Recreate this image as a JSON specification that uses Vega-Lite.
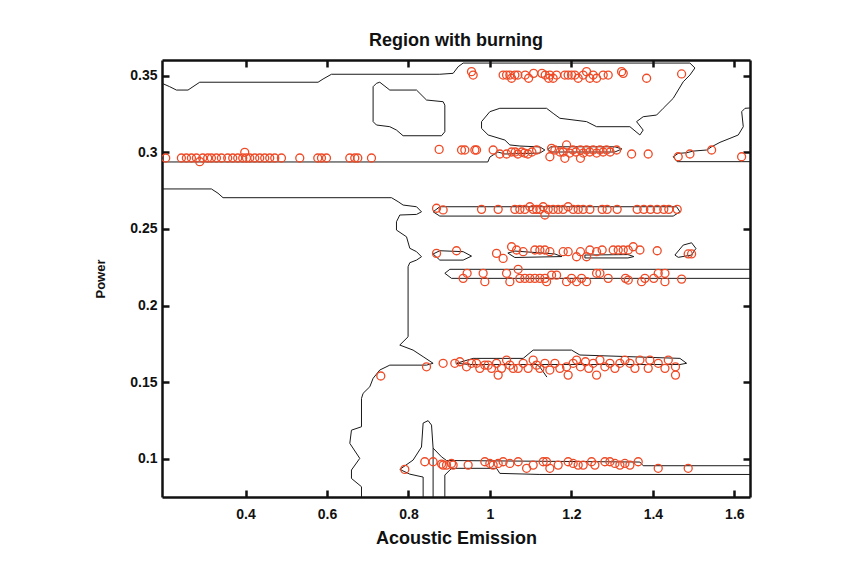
{
"$schema":"https://vega.github.io/schema/vega-lite/v6.json",
"width":588,"height":437,
"autosize":"none",
"padding":{"left":162,"top":60,"right":117,"bottom":78},
"background":"white",
"title":{"text":"Region with burning","font":"Liberation Sans","fontSize":18,"fontWeight":"bold","color":"#111","anchor":"middle","offset":9},
"config":{"view":{"stroke":null},"axis":{"labelFont":"Liberation Sans","labelFontSize":14,"labelFontWeight":"bold","labelColor":"#111","titleFont":"Liberation Sans","titleFontWeight":"bold","titleColor":"#111","domainColor":"#111","domainWidth":2.5,"tickColor":"#111","tickWidth":2.5,"tickSize":-7,"grid":false}},
"datasets":{
"contours":[
{"p":"A","o":1,"x":0.195,"y":0.3450},{"p":"A","o":2,"x":0.2139,"y":0.3428},{"p":"A","o":3,"x":0.2304,"y":0.3406},{"p":"A","o":4,"x":0.2589,"y":0.3406},{"p":"A","o":5,"x":0.2711,"y":0.3428},{"p":"A","o":6,"x":0.2876,"y":0.3457},{"p":"A","o":7,"x":0.5781,"y":0.3457},{"p":"A","o":8,"x":0.5904,"y":0.3478},{"p":"A","o":9,"x":0.6110,"y":0.3509},{"p":"A","o":10,"x":0.8770,"y":0.3509},{"p":"A","o":11,"x":0.9097,"y":0.3515},{"p":"A","o":12,"x":0.9219,"y":0.3558},{"p":"A","o":13,"x":0.9342,"y":0.3582},{"p":"A","o":14,"x":1.4909,"y":0.3582},{"p":"A","o":15,"x":1.5032,"y":0.3550},{"p":"A","o":16,"x":1.4909,"y":0.3504},{"p":"A","o":17,"x":1.4745,"y":0.3460},{"p":"A","o":18,"x":1.4499,"y":0.3352},{"p":"A","o":19,"x":1.4254,"y":0.3287},{"p":"A","o":20,"x":1.4091,"y":0.3243},{"p":"A","o":21,"x":1.3762,"y":0.3232},{"p":"A","o":22,"x":1.3600,"y":0.3200},{"p":"A","o":23,"x":1.3762,"y":0.3145},{"p":"A","o":24,"x":1.3681,"y":0.3113},{"p":"A","o":25,"x":1.3436,"y":0.3167},{"p":"A","o":26,"x":1.2618,"y":0.3167},{"p":"A","o":27,"x":1.2372,"y":0.3200},{"p":"A","o":28,"x":1.1717,"y":0.3222},{"p":"A","o":29,"x":1.1552,"y":0.3254},{"p":"A","o":30,"x":1.1390,"y":0.3287},{"p":"A","o":31,"x":1.0243,"y":0.3287},{"p":"A","o":32,"x":0.9998,"y":0.3265},{"p":"A","o":33,"x":0.9794,"y":0.3200},{"p":"A","o":34,"x":0.9794,"y":0.3156},{"p":"A","o":35,"x":0.9956,"y":0.3113},{"p":"A","o":36,"x":1.0366,"y":0.3080},{"p":"A","o":37,"x":1.0489,"y":0.3048},{"p":"A","o":38,"x":1.0735,"y":0.3041},{"p":"A","o":39,"x":1.1226,"y":0.3035},{"p":"A","o":40,"x":1.1349,"y":0.3015},{"p":"A","o":41,"x":1.1226,"y":0.2995},{"p":"A","o":42,"x":1.0366,"y":0.2989},{"p":"A","o":43,"x":1.0194,"y":0.3002},{"p":"A","o":44,"x":0.9998,"y":0.2969},{"p":"A","o":45,"x":0.9949,"y":0.2937},{"p":"A","o":46,"x":0.195,"y":0.2937},
{"p":"B","o":1,"x":0.7132,"y":0.3428},{"p":"B","o":2,"x":0.7215,"y":0.3450},{"p":"B","o":3,"x":0.7296,"y":0.3457},{"p":"B","o":4,"x":0.7542,"y":0.3406},{"p":"B","o":5,"x":0.8198,"y":0.3406},{"p":"B","o":6,"x":0.8443,"y":0.3341},{"p":"B","o":7,"x":0.8851,"y":0.3330},{"p":"B","o":8,"x":0.8893,"y":0.3308},{"p":"B","o":9,"x":0.8893,"y":0.3134},{"p":"B","o":10,"x":0.8811,"y":0.3108},{"p":"B","o":11,"x":0.7868,"y":0.3108},{"p":"B","o":12,"x":0.7706,"y":0.3145},{"p":"B","o":13,"x":0.7542,"y":0.3167},{"p":"B","o":14,"x":0.7215,"y":0.3178},{"p":"B","o":15,"x":0.7132,"y":0.3200},{"p":"B","o":16,"x":0.7132,"y":0.3428},
{"p":"C","o":1,"x":1.1496,"y":0.3036},{"p":"C","o":2,"x":1.3067,"y":0.3036},{"p":"C","o":3,"x":1.3239,"y":0.3022},{"p":"C","o":4,"x":1.3067,"y":0.3002},{"p":"C","o":5,"x":1.1496,"y":0.3002},{"p":"C","o":6,"x":1.1422,"y":0.3019},{"p":"C","o":7,"x":1.1496,"y":0.3036},
{"p":"D","o":1,"x":1.6384,"y":0.3289},{"p":"D","o":2,"x":1.6261,"y":0.3287},{"p":"D","o":3,"x":1.6180,"y":0.3265},{"p":"D","o":4,"x":1.6219,"y":0.3167},{"p":"D","o":5,"x":1.6096,"y":0.3113},{"p":"D","o":6,"x":1.5892,"y":0.3091},{"p":"D","o":7,"x":1.5647,"y":0.3065},{"p":"D","o":8,"x":1.5442,"y":0.3036},{"p":"D","o":9,"x":1.5319,"y":0.3015},{"p":"D","o":10,"x":1.4990,"y":0.3008},{"p":"D","o":11,"x":1.4828,"y":0.2997},{"p":"D","o":12,"x":1.4622,"y":0.2993},{"p":"D","o":13,"x":1.4499,"y":0.2971},{"p":"D","o":14,"x":1.4597,"y":0.2939},{"p":"D","o":15,"x":1.6384,"y":0.2939},
{"p":"E","o":1,"x":0.195,"y":0.2761},{"p":"E","o":2,"x":0.3163,"y":0.2761},{"p":"E","o":3,"x":0.3325,"y":0.2733},{"p":"E","o":4,"x":0.3448,"y":0.2704},{"p":"E","o":5,"x":0.7584,"y":0.2704},{"p":"E","o":6,"x":0.7746,"y":0.2678},{"p":"E","o":7,"x":0.7869,"y":0.2656},{"p":"E","o":8,"x":0.8198,"y":0.2645},{"p":"E","o":9,"x":0.8320,"y":0.2612},{"p":"E","o":10,"x":0.8198,"y":0.2595},{"p":"E","o":11,"x":0.7787,"y":0.2591},{"p":"E","o":12,"x":0.7706,"y":0.2547},{"p":"E","o":13,"x":0.7706,"y":0.2493},{"p":"E","o":14,"x":0.7952,"y":0.2449},{"p":"E","o":15,"x":0.8033,"y":0.2374},{"p":"E","o":16,"x":0.8198,"y":0.2352},{"p":"E","o":17,"x":0.8320,"y":0.2319},{"p":"E","o":18,"x":0.8198,"y":0.2297},{"p":"E","o":19,"x":0.8033,"y":0.2280},{"p":"E","o":20,"x":0.7991,"y":0.2254},{"p":"E","o":21,"x":0.7991,"y":0.1797},{"p":"E","o":22,"x":0.7787,"y":0.1743},{"p":"E","o":23,"x":0.8114,"y":0.1710},{"p":"E","o":24,"x":0.8360,"y":0.1667},{"p":"E","o":25,"x":0.8605,"y":0.1624},{"p":"E","o":26,"x":0.8443,"y":0.1612},{"p":"E","o":27,"x":0.7542,"y":0.1612},{"p":"E","o":28,"x":0.7296,"y":0.1580},{"p":"E","o":29,"x":0.7132,"y":0.1526},{"p":"E","o":30,"x":0.7051,"y":0.1471},{"p":"E","o":31,"x":0.6886,"y":0.1428},{"p":"E","o":32,"x":0.6847,"y":0.1395},{"p":"E","o":33,"x":0.6847,"y":0.1210},{"p":"E","o":34,"x":0.6601,"y":0.1188},{"p":"E","o":35,"x":0.6560,"y":0.1102},{"p":"E","o":36,"x":0.6805,"y":0.1004},{"p":"E","o":37,"x":0.6601,"y":0.0928},{"p":"E","o":38,"x":0.6601,"y":0.0873},{"p":"E","o":39,"x":0.6847,"y":0.0819},{"p":"E","o":40,"x":0.6847,"y":0.0751},
{"p":"F","o":1,"x":0.8360,"y":0.0751},{"p":"F","o":2,"x":0.8360,"y":0.0882},{"p":"F","o":3,"x":0.8033,"y":0.0901},{"p":"F","o":4,"x":0.7788,"y":0.0932},{"p":"F","o":5,"x":0.8114,"y":0.0993},{"p":"F","o":6,"x":0.8320,"y":0.1078},{"p":"F","o":7,"x":0.8360,"y":0.1234},{"p":"F","o":8,"x":0.8483,"y":0.1250},{"p":"F","o":9,"x":0.8566,"y":0.1221},{"p":"F","o":10,"x":0.8605,"y":0.1071},{"p":"F","o":11,"x":0.8605,"y":0.0751},
{"p":"G","o":1,"x":0.8605,"y":0.1071},{"p":"G","o":2,"x":0.8811,"y":0.1014},{"p":"G","o":3,"x":0.8934,"y":0.0990},{"p":"G","o":4,"x":1.3681,"y":0.0980},{"p":"G","o":5,"x":1.3762,"y":0.0956},{"p":"G","o":6,"x":1.6384,"y":0.0956},
{"p":"H","o":1,"x":1.6384,"y":0.0899},{"p":"H","o":2,"x":1.1226,"y":0.0899},{"p":"H","o":3,"x":1.0243,"y":0.0906},{"p":"H","o":4,"x":1.0162,"y":0.0939},{"p":"H","o":5,"x":0.9057,"y":0.0939},{"p":"H","o":6,"x":0.8893,"y":0.0895},{"p":"H","o":7,"x":0.8893,"y":0.0751},
{"p":"I","o":1,"x":0.9180,"y":0.1624},{"p":"I","o":2,"x":0.9588,"y":0.1656},{"p":"I","o":3,"x":1.0816,"y":0.1656},{"p":"I","o":4,"x":1.1061,"y":0.1710},{"p":"I","o":5,"x":1.2004,"y":0.1710},{"p":"I","o":6,"x":1.2208,"y":0.1678},{"p":"I","o":7,"x":1.4664,"y":0.1656},{"p":"I","o":8,"x":1.4828,"y":0.1624},{"p":"I","o":9,"x":1.4664,"y":0.1616},{"p":"I","o":10,"x":0.9506,"y":0.1616},{"p":"I","o":11,"x":0.9180,"y":0.1624},
{"p":"I2","o":1,"x":1.1061,"y":0.1632},{"p":"I2","o":2,"x":1.1226,"y":0.1600},{"p":"I2","o":3,"x":1.1398,"y":0.1534},
{"p":"J","o":1,"x":0.8605,"y":0.2612},{"p":"J","o":2,"x":0.8770,"y":0.2645},{"p":"J","o":3,"x":1.4582,"y":0.2645},{"p":"J","o":4,"x":1.4664,"y":0.2612},{"p":"J","o":5,"x":1.4499,"y":0.2584},{"p":"J","o":6,"x":0.8770,"y":0.2584},{"p":"J","o":7,"x":0.8605,"y":0.2612},
{"p":"K","o":1,"x":0.8605,"y":0.2337},{"p":"K","o":2,"x":0.8770,"y":0.2358},{"p":"K","o":3,"x":0.9342,"y":0.2352},{"p":"K","o":4,"x":0.9548,"y":0.2323},{"p":"K","o":5,"x":0.9342,"y":0.2297},{"p":"K","o":6,"x":0.8770,"y":0.2297},{"p":"K","o":7,"x":0.8605,"y":0.2337},
{"p":"L","o":1,"x":1.0440,"y":0.2343},{"p":"L","o":2,"x":1.0612,"y":0.2356},{"p":"L","o":3,"x":1.1594,"y":0.2337},{"p":"L","o":4,"x":1.1766,"y":0.2320},{"p":"L","o":5,"x":1.0612,"y":0.2314},{"p":"L","o":6,"x":1.0440,"y":0.2343},
{"p":"M","o":1,"x":1.2331,"y":0.2330},{"p":"M","o":2,"x":1.3387,"y":0.2333},{"p":"M","o":3,"x":1.3534,"y":0.2320},{"p":"M","o":4,"x":1.3387,"y":0.2311},{"p":"M","o":5,"x":1.2331,"y":0.2311},{"p":"M","o":6,"x":1.2331,"y":0.2330},
{"p":"N","o":1,"x":1.4541,"y":0.2330},{"p":"N","o":2,"x":1.4745,"y":0.2395},{"p":"N","o":3,"x":1.4950,"y":0.2410},{"p":"N","o":4,"x":1.5056,"y":0.2373},{"p":"N","o":5,"x":1.4950,"y":0.2330},{"p":"N","o":6,"x":1.4622,"y":0.2315},{"p":"N","o":7,"x":1.4541,"y":0.2330},
{"p":"O","o":1,"x":1.6384,"y":0.2237},{"p":"O","o":2,"x":0.9016,"y":0.2237},{"p":"O","o":3,"x":0.8893,"y":0.2211},{"p":"O","o":4,"x":0.9057,"y":0.2178},{"p":"O","o":5,"x":1.6384,"y":0.2178}
],
"points":[
{"x":0.2041,"y":0.2963},{"x":0.2426,"y":0.2963},{"x":0.2549,"y":0.2963},{"x":0.2672,"y":0.2963},{"x":0.2795,"y":0.2963},{"x":0.2876,"y":0.2939},{"x":0.2950,"y":0.2963},{"x":0.3072,"y":0.2963},{"x":0.3163,"y":0.2963},{"x":0.3286,"y":0.2963},{"x":0.3409,"y":0.2963},{"x":0.3563,"y":0.2963},{"x":0.3686,"y":0.2963},{"x":0.3809,"y":0.2963},{"x":0.3932,"y":0.2963},{"x":0.3981,"y":0.3000},{"x":0.4023,"y":0.2963},{"x":0.4104,"y":0.2963},{"x":0.4227,"y":0.2963},{"x":0.4349,"y":0.2963},{"x":0.4472,"y":0.2963},{"x":0.4595,"y":0.2963},{"x":0.4718,"y":0.2963},{"x":0.4882,"y":0.2963},{"x":0.5332,"y":0.2963},{"x":0.5774,"y":0.2963},{"x":0.5865,"y":0.2963},{"x":0.5987,"y":0.2963},{"x":0.6560,"y":0.2963},{"x":0.6682,"y":0.2963},{"x":0.6756,"y":0.2963},{"x":0.7092,"y":0.2963},{"x":0.8753,"y":0.3019},
{"x":0.9303,"y":0.3015},{"x":0.9384,"y":0.3015},{"x":0.9630,"y":0.3015},{"x":0.9671,"y":0.3015},{"x":1.0079,"y":0.3015},{"x":1.0243,"y":0.2989},{"x":1.0408,"y":0.2989},{"x":1.0685,"y":0.2989},{"x":1.0931,"y":0.2989},{"x":1.1145,"y":0.3015},{"x":1.1513,"y":0.3026},{"x":1.1594,"y":0.3015},{"x":1.1881,"y":0.3048},{"x":1.2036,"y":0.3015},{"x":1.2222,"y":0.3015},{"x":1.2372,"y":0.3015},{"x":1.2534,"y":0.3015},{"x":1.2700,"y":0.3015},{"x":1.2864,"y":0.3015},{"x":1.1471,"y":0.2971},{"x":1.1839,"y":0.2961},{"x":1.2222,"y":0.2961},{"x":1.3110,"y":0.3015},{"x":1.3478,"y":0.2989},{"x":1.3885,"y":0.2989},{"x":1.4622,"y":0.2971},{"x":1.4909,"y":0.2989},{"x":1.5442,"y":0.3015},{"x":1.6178,"y":0.2971},
{"x":1.0530,"y":0.3002},{"x":1.0620,"y":0.3002},{"x":1.0780,"y":0.3002},{"x":1.0850,"y":0.2995},{"x":1.1030,"y":0.3002},{"x":1.1720,"y":0.3002},{"x":1.1800,"y":0.3002},{"x":1.1960,"y":0.2995},{"x":1.2110,"y":0.3002},{"x":1.2290,"y":0.2995},{"x":1.2450,"y":0.3002},{"x":1.2620,"y":0.2995},{"x":1.2780,"y":0.3002},{"x":1.2950,"y":0.3002},
{"x":0.9548,"y":0.3526},{"x":0.9588,"y":0.3504},{"x":1.0324,"y":0.3504},{"x":1.0408,"y":0.3504},{"x":1.0489,"y":0.3504},{"x":1.0531,"y":0.3483},{"x":1.0612,"y":0.3504},{"x":1.0685,"y":0.3504},{"x":1.0866,"y":0.3504},{"x":1.0950,"y":0.3483},{"x":1.1072,"y":0.3515},{"x":1.1276,"y":0.3515},{"x":1.1357,"y":0.3504},{"x":1.1441,"y":0.3483},{"x":1.1471,"y":0.3504},{"x":1.1552,"y":0.3483},{"x":1.1636,"y":0.3504},{"x":1.1839,"y":0.3504},{"x":1.1920,"y":0.3504},{"x":1.2004,"y":0.3504},{"x":1.2085,"y":0.3504},{"x":1.2166,"y":0.3483},{"x":1.2289,"y":0.3504},{"x":1.2372,"y":0.3526},{"x":1.2453,"y":0.3483},{"x":1.2534,"y":0.3504},{"x":1.2618,"y":0.3483},{"x":1.2780,"y":0.3504},{"x":1.2903,"y":0.3504},{"x":1.3232,"y":0.3526},{"x":1.3272,"y":0.3515},{"x":1.3846,"y":0.3483},{"x":1.4705,"y":0.3511},
{"x":0.8689,"y":0.2635},{"x":0.8851,"y":0.2624},{"x":0.9794,"y":0.2628},{"x":1.0202,"y":0.2628},{"x":1.0612,"y":0.2628},{"x":1.0735,"y":0.2628},{"x":1.0857,"y":0.2628},{"x":1.0980,"y":0.2645},{"x":1.1061,"y":0.2628},{"x":1.1145,"y":0.2628},{"x":1.1226,"y":0.2628},{"x":1.1307,"y":0.2645},{"x":1.1349,"y":0.2591},{"x":1.1430,"y":0.2628},{"x":1.1552,"y":0.2628},{"x":1.1675,"y":0.2628},{"x":1.1798,"y":0.2628},{"x":1.1920,"y":0.2645},{"x":1.2043,"y":0.2628},{"x":1.2166,"y":0.2628},{"x":1.2289,"y":0.2628},{"x":1.2453,"y":0.2628},{"x":1.2755,"y":0.2628},{"x":1.2877,"y":0.2628},{"x":1.3123,"y":0.2628},{"x":1.3614,"y":0.2628},{"x":1.3777,"y":0.2628},{"x":1.3941,"y":0.2628},{"x":1.4106,"y":0.2628},{"x":1.4268,"y":0.2628},{"x":1.4391,"y":0.2628},{"x":1.4597,"y":0.2628},
{"x":0.8689,"y":0.2341},{"x":0.9180,"y":0.2358},{"x":1.0162,"y":0.2341},{"x":1.0324,"y":0.2308},{"x":1.0531,"y":0.2384},{"x":1.0654,"y":0.2363},{"x":1.0816,"y":0.2352},{"x":1.1103,"y":0.2363},{"x":1.1226,"y":0.2363},{"x":1.1349,"y":0.2363},{"x":1.1471,"y":0.2352},{"x":1.1798,"y":0.2352},{"x":1.1920,"y":0.2352},{"x":1.2127,"y":0.2319},{"x":1.2222,"y":0.2352},{"x":1.2372,"y":0.2319},{"x":1.2453,"y":0.2363},{"x":1.2618,"y":0.2352},{"x":1.2755,"y":0.2363},{"x":1.3026,"y":0.2363},{"x":1.3149,"y":0.2363},{"x":1.3272,"y":0.2363},{"x":1.3395,"y":0.2363},{"x":1.3517,"y":0.2384},{"x":1.3682,"y":0.2363},{"x":1.4106,"y":0.2358},{"x":1.4867,"y":0.2337},{"x":1.4950,"y":0.2337},
{"x":0.9342,"y":0.2178},{"x":0.9440,"y":0.2211},{"x":0.9833,"y":0.2211},{"x":0.9875,"y":0.2156},{"x":1.0408,"y":0.2211},{"x":1.0489,"y":0.2156},{"x":1.0693,"y":0.2237},{"x":1.0735,"y":0.2178},{"x":1.0857,"y":0.2178},{"x":1.0980,"y":0.2178},{"x":1.1103,"y":0.2178},{"x":1.1226,"y":0.2178},{"x":1.1349,"y":0.2178},{"x":1.1390,"y":0.2156},{"x":1.1513,"y":0.2199},{"x":1.1636,"y":0.2199},{"x":1.1881,"y":0.2156},{"x":1.2004,"y":0.2178},{"x":1.2127,"y":0.2156},{"x":1.2249,"y":0.2178},{"x":1.2372,"y":0.2156},{"x":1.2618,"y":0.2211},{"x":1.2700,"y":0.2211},{"x":1.2903,"y":0.2178},{"x":1.3327,"y":0.2178},{"x":1.3395,"y":0.2167},{"x":1.3723,"y":0.2156},{"x":1.3804,"y":0.2178},{"x":1.4022,"y":0.2178},{"x":1.4131,"y":0.2211},{"x":1.4296,"y":0.2211},{"x":1.4296,"y":0.2156},{"x":1.4705,"y":0.2173},
{"x":0.7321,"y":0.1541},{"x":0.8443,"y":0.1601},{"x":0.8851,"y":0.1624},{"x":0.9138,"y":0.1624},{"x":0.9261,"y":0.1634},{"x":0.9425,"y":0.1601},{"x":0.9548,"y":0.1624},{"x":0.9671,"y":0.1624},{"x":0.9752,"y":0.1591},{"x":0.9875,"y":0.1612},{"x":0.9956,"y":0.1612},{"x":1.0039,"y":0.1591},{"x":1.0162,"y":0.1624},{"x":1.0202,"y":0.1547},{"x":1.0285,"y":0.1591},{"x":1.0408,"y":0.1645},{"x":1.0489,"y":0.1612},{"x":1.0570,"y":0.1591},{"x":1.0693,"y":0.1591},{"x":1.0816,"y":0.1624},{"x":1.0938,"y":0.1591},{"x":1.1061,"y":0.1645},{"x":1.1145,"y":0.1612},{"x":1.1226,"y":0.1591},{"x":1.1349,"y":0.1624},{"x":1.1471,"y":0.1580},{"x":1.1594,"y":0.1624},{"x":1.1717,"y":0.1591},{"x":1.1881,"y":0.1601},{"x":1.1920,"y":0.1547},{"x":1.2043,"y":0.1624},{"x":1.2127,"y":0.1645},{"x":1.2222,"y":0.1601},{"x":1.2345,"y":0.1634},{"x":1.2426,"y":0.1591},{"x":1.2534,"y":0.1624},{"x":1.2618,"y":0.1547},{"x":1.2700,"y":0.1645},{"x":1.2822,"y":0.1601},{"x":1.2945,"y":0.1624},{"x":1.3068,"y":0.1591},{"x":1.3190,"y":0.1624},{"x":1.3313,"y":0.1645},{"x":1.3436,"y":0.1624},{"x":1.3559,"y":0.1591},{"x":1.3682,"y":0.1645},{"x":1.3885,"y":0.1591},{"x":1.3926,"y":0.1645},{"x":1.4131,"y":0.1624},{"x":1.4296,"y":0.1591},{"x":1.4378,"y":0.1645},{"x":1.4555,"y":0.1601},{"x":1.4555,"y":0.1547},
{"x":0.7910,"y":0.0932},{"x":0.8401,"y":0.0982},{"x":0.8605,"y":0.0982},{"x":0.8812,"y":0.0967},{"x":0.8851,"y":0.0960},{"x":0.8934,"y":0.0960},{"x":0.9057,"y":0.0971},{"x":0.9096,"y":0.0960},{"x":0.9465,"y":0.0960},{"x":0.9875,"y":0.0982},{"x":0.9998,"y":0.0971},{"x":1.0079,"y":0.0960},{"x":1.0202,"y":0.0971},{"x":1.0324,"y":0.0982},{"x":1.0489,"y":0.0971},{"x":1.0693,"y":0.0982},{"x":1.0900,"y":0.0939},{"x":1.1061,"y":0.0960},{"x":1.1307,"y":0.0982},{"x":1.1390,"y":0.0982},{"x":1.1471,"y":0.0939},{"x":1.1675,"y":0.0960},{"x":1.1920,"y":0.0982},{"x":1.2043,"y":0.0971},{"x":1.2166,"y":0.0960},{"x":1.2289,"y":0.0960},{"x":1.2495,"y":0.0982},{"x":1.2576,"y":0.0960},{"x":1.2822,"y":0.0982},{"x":1.2945,"y":0.0982},{"x":1.3068,"y":0.0971},{"x":1.3190,"y":0.0960},{"x":1.3313,"y":0.0971},{"x":1.3436,"y":0.0960},{"x":1.3640,"y":0.0982},{"x":1.4131,"y":0.0939},{"x":1.4867,"y":0.0939}
]
},
"layer":[
{"data":{"name":"contours"},
 "mark":{"type":"line","color":"#1a1a1a","strokeWidth":1,"clip":true},
 "encoding":{
  "x":{"field":"x","type":"quantitative","scale":{"domain":[0.195,1.6384],"nice":false,"zero":false},
       "axis":{"orient":"bottom","values":[0.4,0.6,0.8,1,1.2,1.4,1.6],"format":"~g","title":"Acoustic Emission","titleFontSize":18,"labelPadding":17,"titlePadding":8}},
  "y":{"field":"y","type":"quantitative","scale":{"domain":[0.0752,0.3602],"nice":false,"zero":false},
       "axis":{"orient":"left","values":[0.1,0.15,0.2,0.25,0.3,0.35],"format":"~g","title":"Power","titleFontSize":13,"labelPadding":12,"titlePadding":22}},
  "detail":{"field":"p"},
  "order":{"field":"o","type":"quantitative"}
 }},
{"data":{"name":"points"},
 "mark":{"type":"point","shape":"circle","filled":false,"size":64,"stroke":"#ef4a26","strokeWidth":1.3,"opacity":1,"clip":true},
 "encoding":{
  "x":{"field":"x","type":"quantitative","scale":{"domain":[0.195,1.6384],"nice":false,"zero":false},
       "axis":{"orient":"top","values":[0.4,0.6,0.8,1,1.2,1.4,1.6],"labels":false,"title":null}},
  "y":{"field":"y","type":"quantitative","scale":{"domain":[0.0752,0.3602],"nice":false,"zero":false},
       "axis":{"orient":"right","values":[0.1,0.15,0.2,0.25,0.3,0.35],"labels":false,"title":null}}
 }}
],
"resolve":{"axis":{"x":"independent","y":"independent"}}
}
